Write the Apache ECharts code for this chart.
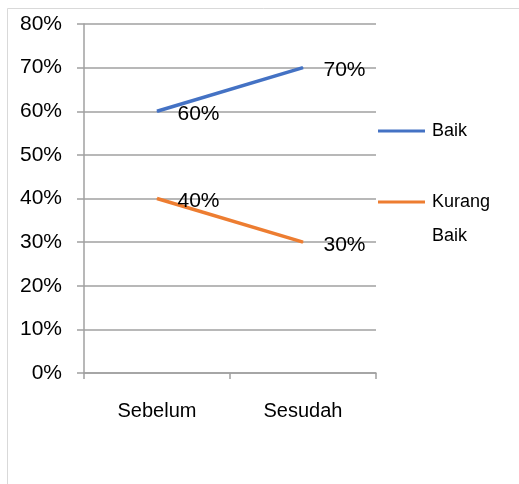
<!DOCTYPE html>
<html>
<head>
<meta charset="utf-8">
<script src="https://cdn.jsdelivr.net/npm/echarts@6/dist/echarts.min.js"></script>
<style>
  html, body { margin: 0; padding: 0; background: #fff; }
  #chart { width: 519px; height: 484px; }
</style>
</head>
<body>
<div id="chart"></div>
<script>
var categories = ['Sebelum', 'Sesudah'];
var baik = [0.6, 0.7];
var kurangBaik = [0.4, 0.3];
var yTicks = [0, 0.1, 0.2, 0.3, 0.4, 0.5, 0.6, 0.7, 0.8];

var chart = echarts.init(document.getElementById('chart'));
var fontFam = 'Liberation Sans';

function pct(v) {
    return Math.round(v * 100) + '%';
}

var labelCfg = {
    show: true,
    position: 'right',
    distance: 5,
    offset: [15, 3],
    color: '#000',
    fontSize: 21,
    fontFamily: fontFam,
    formatter: function (p) { return pct(p.value); }
};

var option = {
    backgroundColor: '#fff',
    animation: false,
    graphic: [{
        type: 'rect',
        shape: { x: 7.5, y: 8.5, width: 600, height: 600 },
        style: { fill: 'none', stroke: '#d9d9d9', lineWidth: 1 },
        silent: true
    }],
    grid: { left: 84, right: 143, top: 24, bottom: 111 },
    legend: [{
        orient: 'vertical',
        left: 378,
        top: 122,
        padding: 0,
        data: ['Baik'],
        icon: 'rect',
        itemWidth: 47,
        itemHeight: 3,
        textStyle: { fontSize: 18, fontFamily: fontFam, color: '#000', padding: [0, 0, 0, 2] }
    }, {
        orient: 'vertical',
        left: 378,
        top: 151,
        padding: 0,
        data: ['Kurang Baik'],
        icon: 'rect',
        itemWidth: 47,
        itemHeight: 3,
        formatter: function () { return ' \nKurang\nBaik'; },
        textStyle: { fontSize: 18, lineHeight: 34, fontFamily: fontFam, color: '#000', padding: [0, 0, 0, 2] }
    }],
    xAxis: {
        type: 'category',
        data: categories,
        boundaryGap: true,
        axisLine: { lineStyle: { color: '#a0a0a0', width: 1.5 } },
        axisTick: { show: true, length: 6, lineStyle: { color: '#a0a0a0', width: 1.5 } },
        axisLabel: { color: '#000', fontSize: 20, fontFamily: fontFam, margin: 28 }
    },
    yAxis: {
        type: 'value',
        min: yTicks[0],
        max: yTicks[yTicks.length - 1],
        interval: 0.1,
        axisLine: { show: true, lineStyle: { color: '#a0a0a0', width: 1.5 } },
        axisTick: { show: true, length: 7, lineStyle: { color: '#a0a0a0', width: 1.5 } },
        splitLine: { lineStyle: { color: '#a0a0a0', width: 1.5 } },
        axisLabel: { color: '#000', fontSize: 21, fontFamily: fontFam, margin: 22, formatter: pct }
    },
    series: [{
        name: 'Baik',
        type: 'line',
        data: baik,
        symbol: 'circle',
        symbolSize: 1,
        showSymbol: true,
        color: '#4472C4',
        lineStyle: { width: 3.5, color: '#4472C4' },
        label: labelCfg
    }, {
        name: 'Kurang Baik',
        type: 'line',
        data: kurangBaik,
        symbol: 'circle',
        symbolSize: 1,
        showSymbol: true,
        color: '#ED7D31',
        lineStyle: { width: 3.5, color: '#ED7D31' },
        label: labelCfg
    }]
};
chart.setOption(option);
</script>
</body>
</html>
